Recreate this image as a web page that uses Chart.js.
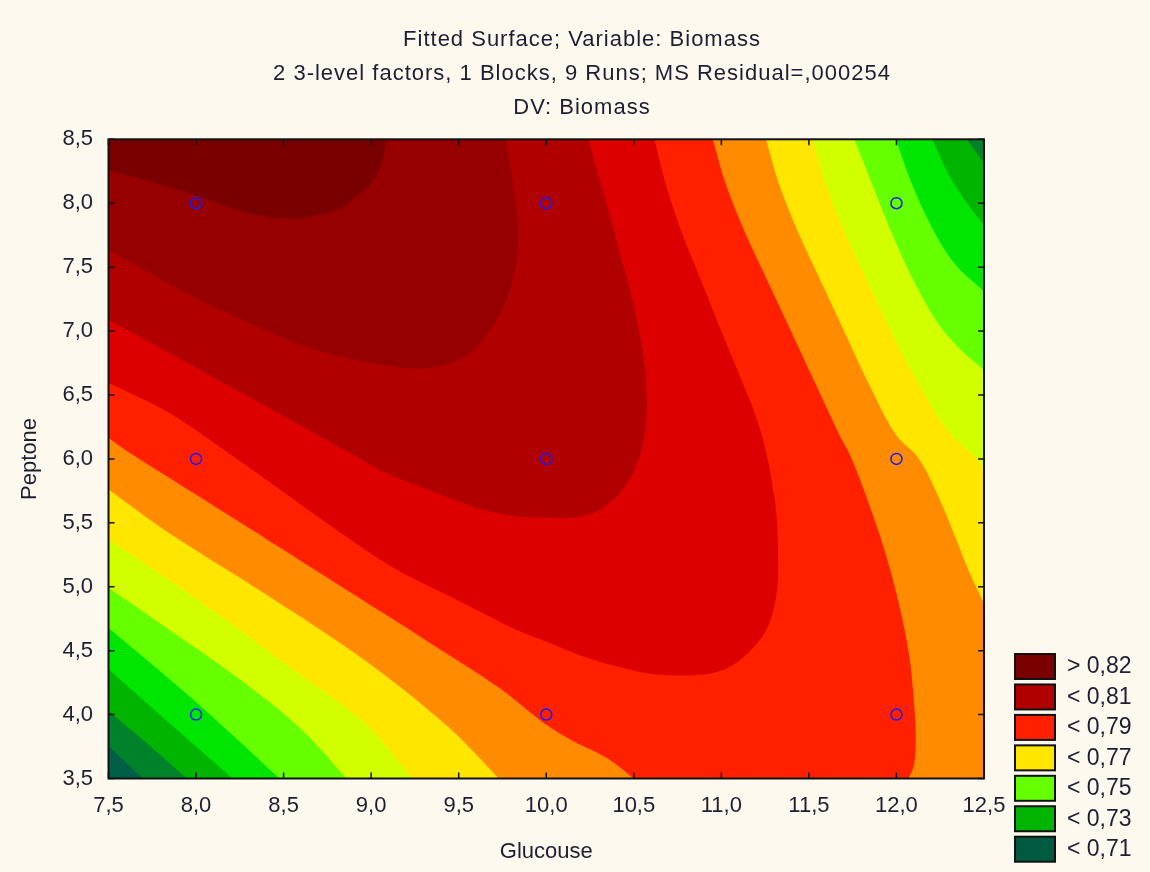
<!DOCTYPE html>
<html>
<head>
<meta charset="utf-8">
<title>Fitted Surface; Variable: Biomass</title>
<script src="https://cdn.jsdelivr.net/npm/chart.js@4.4.1/dist/chart.umd.min.js"></script>
<style>
  html, body { margin: 0; padding: 0; background: #fdf9ef; }
  #box { position: relative; width: 1150px; height: 872px; }
</style>
</head>
<body>
<div id="box"><canvas id="chart" width="1150" height="872"></canvas></div>
<script>
// ---- Text ----
const TITLE_LINES = [
  'Fitted Surface; Variable: Biomass',
  '2 3-level factors, 1 Blocks, 9 Runs; MS Residual=,000254',
  'DV: Biomass'
];
const X_TITLE = 'Glucouse';
const Y_TITLE = 'Peptone';

// ---- Axes ----
const X_MIN = 7.5, X_MAX = 12.5, Y_MIN = 3.5, Y_MAX = 8.5;
const X_TICKS = [7.5, 8.0, 8.5, 9.0, 9.5, 10.0, 10.5, 11.0, 11.5, 12.0, 12.5];
const X_TICK_LABELS = ['7,5', '8,0', '8,5', '9,0', '9,5', '10,0', '10,5', '11,0', '11,5', '12,0', '12,5'];
const Y_TICKS = [3.5, 4.0, 4.5, 5.0, 5.5, 6.0, 6.5, 7.0, 7.5, 8.0, 8.5];
const Y_TICK_LABELS = ['3,5', '4,0', '4,5', '5,0', '5,5', '6,0', '6,5', '7,0', '7,5', '8,0', '8,5'];

// ---- Design runs (3x3 factorial) ----
const RUN_GLUCOSE = [8, 8, 8, 10, 10, 10, 12, 12, 12];
const RUN_PEPTONE = [4, 6, 8, 4, 6, 8, 4, 6, 8];

// ---- Surface bands, lowest to highest (<0,71 ... >0,82) ----
const BAND_COLORS = ['#005f46', '#00822a', '#00b400', '#00e600', '#66ff00', '#d2ff00',
                     '#ffe600', '#ff8c00', '#ff2000', '#dc0000', '#b00000', '#960000', '#7a0000'];

// ---- Legend ----
const LEGEND_LABELS = ['> 0,82', '< 0,81', '< 0,79', '< 0,77', '< 0,75', '< 0,73', '< 0,71'];
const LEGEND_COLORS = ['#7a0000', '#b00000', '#ff2000', '#ffe600', '#66ff00', '#00b400', '#005a40'];

// ---- Contour lines of the fitted surface, [glucose, peptone] ----
// *_LOW lines run from the left edge to the bottom edge,
// *_HIGH lines run from the top edge to the right (or bottom) edge.
const C071_LOW  = [[7.5, 3.755], [7.696, 3.5]];
const C072_LOW  = [[7.5, 4.03], [7.72, 3.775], [7.947, 3.5]];
const C072_HIGH = [[12.40, 8.5], [12.45, 8.41], [12.5, 8.31]];
const C073_LOW  = [[7.5, 4.354], [7.85, 3.93], [8.209, 3.5]];
const C073_HIGH = [[12.205, 8.5], [12.3, 8.221], [12.395, 8.013], [12.5, 7.83]];
const C074_LOW  = [[7.5, 4.68], [7.99, 4.11], [8.477, 3.5]];
const C074_HIGH = [[11.996, 8.5], [12.091, 8.143], [12.205, 7.805], [12.338, 7.518], [12.5, 7.31]];
const C075_LOW  = [[7.5, 4.992], [7.83, 4.68], [8.21, 4.315], [8.59, 3.898], [8.859, 3.5]];
const C075_HIGH = [[11.759, 8.5], [11.863, 8.143], [11.977, 7.753], [12.11, 7.362], [12.243, 7.049],
                   [12.376, 6.841], [12.5, 6.698]];
const C076_LOW  = [[7.5, 5.37], [8.02, 4.888], [8.59, 4.315], [8.969, 3.924], [9.235, 3.5]];
const C076_HIGH = [[11.521, 8.5], [11.597, 8.143], [11.711, 7.753], [11.844, 7.362], [11.977, 6.971],
                   [12.129, 6.581], [12.281, 6.242], [12.46, 6.0], [12.5, 5.94]];
const C077_LOW  = [[7.5, 5.76], [7.83, 5.435], [8.4, 4.94], [8.969, 4.419], [9.444, 3.898], [9.729, 3.5]];
const C077_HIGH = [[11.255, 8.5], [11.331, 8.143], [11.445, 7.753], [11.578, 7.362], [11.711, 6.971],
                   [11.844, 6.581], [11.996, 6.19], [12.129, 6.0], [12.243, 5.695], [12.338, 5.383],
                   [12.414, 5.122], [12.5, 4.87]];
const C078_LOW  = [[7.5, 6.164], [7.64, 6.03], [8.21, 5.539], [8.779, 5.044], [9.349, 4.549], [9.729, 4.211],
                   [9.99, 3.93], [10.152, 3.794], [10.342, 3.664], [10.5, 3.5]];
const C078_HIGH = [[10.951, 8.5], [11.027, 8.143], [11.141, 7.753], [11.274, 7.362], [11.407, 6.971],
                   [11.54, 6.581], [11.673, 6.19], [11.745, 6.0], [11.844, 5.643], [11.939, 5.253],
                   [12.015, 4.862], [12.072, 4.471], [12.101, 4.081], [12.11, 3.82], [12.101, 3.612],
                   [12.07, 3.5]];
const C079 = [[7.5, 6.594], [7.831, 6.372], [8.15, 6.08], [8.5, 5.74], [8.86, 5.39], [9.15, 5.13],
              [9.445, 4.927], [9.634, 4.797], [9.825, 4.666], [10.014, 4.563], [10.204, 4.458],
              [10.394, 4.38], [10.622, 4.315], [10.907, 4.315], [11.058, 4.38], [11.191, 4.536],
              [11.267, 4.692], [11.314, 4.927], [11.324, 5.188], [11.314, 5.578], [11.286, 5.838],
              [11.248, 6.099], [11.19, 6.36], [11.12, 6.6], [11.008, 6.971], [10.894, 7.362],
              [10.779, 7.753], [10.684, 8.143], [10.618, 8.5]];
const C080 = [[7.5, 7.089], [7.83, 6.841], [8.21, 6.555], [8.59, 6.268], [8.9, 6.03], [9.064, 5.904],
              [9.349, 5.747], [9.634, 5.604], [9.825, 5.552], [10.014, 5.539], [10.204, 5.552],
              [10.337, 5.63], [10.451, 5.786], [10.527, 5.995], [10.565, 6.229], [10.574, 6.5],
              [10.551, 6.841], [10.494, 7.232], [10.418, 7.622], [10.342, 8.013], [10.285, 8.273],
              [10.243, 8.5]];
const C081 = [[7.5, 7.635], [7.754, 7.44], [8.001, 7.258], [8.286, 7.076], [8.571, 6.906], [8.817, 6.802],
              [9.064, 6.737], [9.33, 6.711], [9.539, 6.802], [9.662, 6.971], [9.767, 7.232], [9.823, 7.492],
              [9.839, 7.753], [9.823, 8.013], [9.795, 8.273], [9.77, 8.5]];
const C082 = [[7.5, 8.26], [7.735, 8.17], [8.001, 8.06], [8.305, 7.92], [8.552, 7.883], [8.779, 7.935],
              [8.893, 8.026], [9.007, 8.169], [9.064, 8.326], [9.087, 8.5]];

// ---- Regions where the surface lies above each level ----
// Each line is carried a short way past the frame so the smoothed outline
// keeps its direction where it meets the edge; the overshoot is clipped away.
const OUT = 0.3;                       // polygon corners sit this far outside the frame
const BR = [X_MAX + OUT, Y_MIN - OUT]; // beyond bottom-right
const TR = [X_MAX + OUT, Y_MAX + OUT]; // beyond top-right
const TL = [X_MIN - OUT, Y_MAX + OUT]; // beyond top-left
const rev = a => a.slice().reverse();
function carry(line) {
  const step = (a, b) => {
    const dx = a[0] - b[0], dy = a[1] - b[1], t = 0.12 / Math.hypot(dx, dy);
    return [a[0] + dx * t, a[1] + dy * t];
  };
  return [step(line[0], line[1]), ...line, step(line[line.length - 1], line[line.length - 2])];
}
// bounded by a lower-left line and, optionally, a top-right line ending on the right edge
function aboveCorners(low, high) {
  return [...carry(low), BR, ...(high ? carry(rev(high)) : [TR]), TL];
}
// bounded by a lower-left line and a right line ending on the bottom edge
function between(low, high) {
  return [...carry(low), ...carry(rev(high)), TL];
}
// upper-left pocket
function pocket(line) {
  return [...carry(line), TL];
}
const REGIONS = [
  [[X_MIN, Y_MIN], [X_MAX, Y_MIN], [X_MAX, Y_MAX], [X_MIN, Y_MAX]],
  aboveCorners(C071_LOW),
  aboveCorners(C072_LOW, C072_HIGH),
  aboveCorners(C073_LOW, C073_HIGH),
  aboveCorners(C074_LOW, C074_HIGH),
  aboveCorners(C075_LOW, C075_HIGH),
  aboveCorners(C076_LOW, C076_HIGH),
  aboveCorners(C077_LOW, C077_HIGH),
  between(C078_LOW, C078_HIGH),
  pocket(C079),
  pocket(C080),
  pocket(C081),
  pocket(C082)
];

const FONT = '"Liberation Sans", Arial, sans-serif';
const TEXT = '#1e1e30';

// Fill each band polygon from the line element Chart.js has laid out on the scales
const bandFill = {
  id: 'bandFill',
  beforeDatasetDraw(chart, args) {
    const ds = chart.data.datasets[args.index];
    if (!ds.bandPolygon) return;
    const ctx = chart.ctx, a = chart.chartArea;
    ctx.save();
    ctx.beginPath();
    ctx.rect(a.left, a.top, a.right - a.left, a.bottom - a.top);
    ctx.clip();
    ctx.beginPath();
    args.meta.dataset.path(ctx);
    ctx.closePath();
    ctx.fillStyle = ds.backgroundColor;
    ctx.fill();
    ctx.restore();
    return false;
  }
};

// Frame with inward tick marks on all four sides
const frame = {
  id: 'frame',
  afterDatasetsDraw(chart) {
    const {ctx, chartArea: a, scales: {x, y}} = chart;
    ctx.save();
    ctx.strokeStyle = '#111';
    ctx.lineWidth = 1.5;
    ctx.beginPath();
    X_TICKS.forEach(v => {
      const px = x.getPixelForValue(v);
      ctx.moveTo(px, a.top); ctx.lineTo(px, a.top + 6);
      ctx.moveTo(px, a.bottom); ctx.lineTo(px, a.bottom - 6);
    });
    Y_TICKS.forEach(v => {
      const py = y.getPixelForValue(v);
      ctx.moveTo(a.left, py); ctx.lineTo(a.left + 6, py);
      ctx.moveTo(a.right, py); ctx.lineTo(a.right - 6, py);
    });
    ctx.stroke();
    ctx.lineWidth = 2;
    ctx.strokeRect(a.left, a.top, a.right - a.left, a.bottom - a.top);
    ctx.restore();
  }
};

// Background, heading and level key
const decor = {
  id: 'decor',
  beforeDraw(chart) {
    const ctx = chart.ctx;
    ctx.save();
    ctx.fillStyle = '#fdf9ef';
    ctx.fillRect(0, 0, chart.width, chart.height);
    ctx.restore();
  },
  afterDraw(chart) {
    const ctx = chart.ctx;
    ctx.save();
    ctx.fillStyle = TEXT;
    ctx.textAlign = 'center';
    ctx.textBaseline = 'middle';
    ctx.font = '22px ' + FONT;
    if ('letterSpacing' in ctx) ctx.letterSpacing = '1px';
    const titleY = [40, 74, 107.5];
    TITLE_LINES.forEach((t, i) => ctx.fillText(t, 582, titleY[i]));
    if ('letterSpacing' in ctx) ctx.letterSpacing = '0px';

    ctx.textAlign = 'left';
    ctx.font = '23px ' + FONT;
    LEGEND_LABELS.forEach((label, i) => {
      const top = 654 + i * 30.45;
      ctx.fillStyle = LEGEND_COLORS[i];
      ctx.fillRect(1015, top, 40, 25);
      ctx.lineWidth = 2;
      ctx.strokeStyle = '#111';
      ctx.strokeRect(1015, top, 40, 25);
      ctx.fillStyle = TEXT;
      ctx.fillText(label, 1067, top + 13);
    });
    ctx.restore();
  }
};

const datasets = REGIONS.map((pts, k) => ({
  data: pts.map(([x, y]) => ({x, y})),
  showLine: true,
  bandPolygon: true,
  backgroundColor: BAND_COLORS[k],
  borderColor: BAND_COLORS[k],
  borderWidth: 0,
  pointRadius: 0,
  tension: k === 0 ? 0 : 0.35,
  capBezierPoints: false,
  order: 100 - k
}));
datasets.push({
  data: RUN_GLUCOSE.map((g, i) => ({x: g, y: RUN_PEPTONE[i]})),
  showLine: false,
  pointStyle: 'circle',
  pointRadius: 5.5,
  pointBorderWidth: 1.5,
  pointBorderColor: '#1a1aff',
  pointBackgroundColor: 'rgba(0,0,0,0)',
  order: 0
});

new Chart(document.getElementById('chart'), {
  type: 'scatter',
  data: {datasets},
  plugins: [decor, bandFill, frame],
  options: {
    responsive: false,
    devicePixelRatio: 1,
    animation: false,
    events: [],
    layout: {padding: {top: 139.3, right: 166, bottom: 0, left: 0}},
    plugins: {legend: {display: false}, tooltip: {enabled: false}, title: {display: false}},
    scales: {
      x: {
        type: 'linear', min: X_MIN, max: X_MAX,
        afterBuildTicks: s => { s.ticks = X_TICKS.map(v => ({value: v})); },
        afterFit: s => { s.height = 93.5; },
        ticks: {
          callback: (v, i) => X_TICK_LABELS[i],
          autoSkip: false, maxRotation: 0, padding: 14,
          font: {family: FONT, size: 22}, color: TEXT
        },
        grid: {display: false, drawTicks: false},
        border: {display: false},
        title: {display: true, text: X_TITLE, font: {family: FONT, size: 22}, color: TEXT, padding: {top: 0, bottom: 7}}
      },
      y: {
        type: 'linear', min: Y_MIN, max: Y_MAX,
        afterBuildTicks: s => { s.ticks = Y_TICKS.map(v => ({value: v})); },
        afterFit: s => { s.width = 108.5; },
        ticks: {
          callback: (v, i) => Y_TICK_LABELS[i],
          autoSkip: false, padding: 15.5,
          font: {family: FONT, size: 22}, color: TEXT
        },
        grid: {display: false, drawTicks: false},
        border: {display: false},
        title: {display: true, text: Y_TITLE, font: {family: FONT, size: 22}, color: TEXT, padding: {top: 17, bottom: 0}}
      }
    }
  }
});
</script>
</body>
</html>
